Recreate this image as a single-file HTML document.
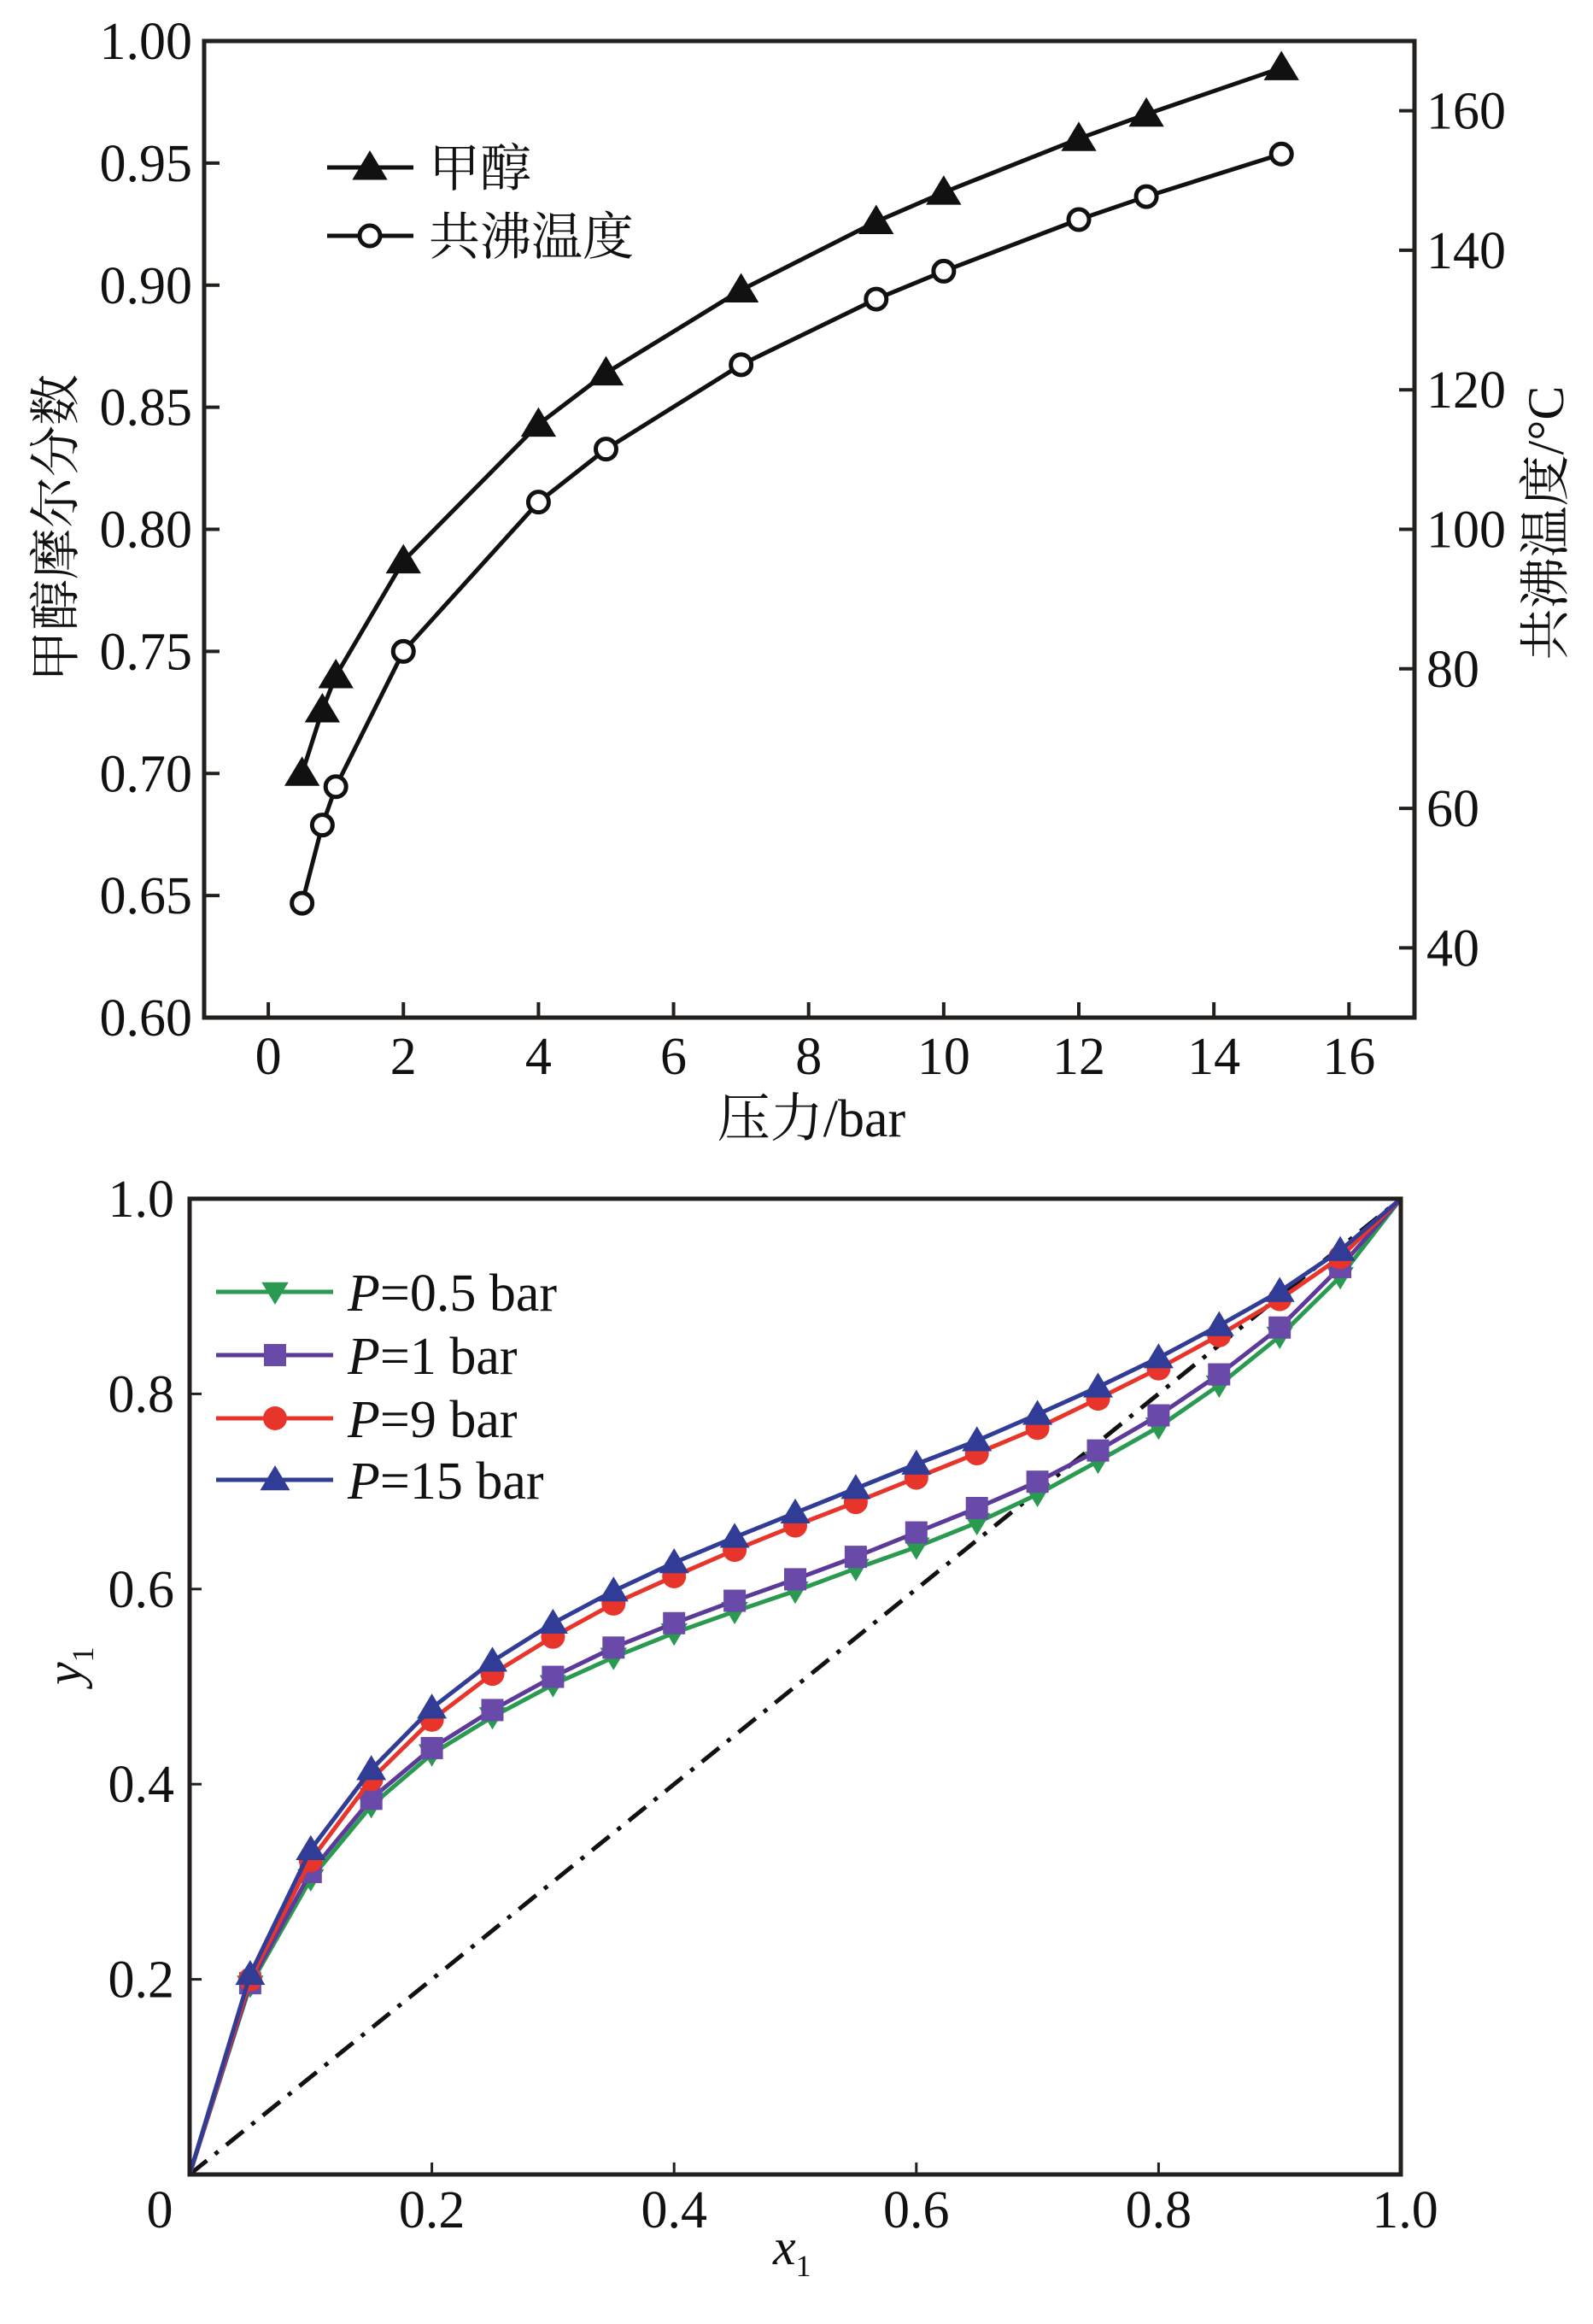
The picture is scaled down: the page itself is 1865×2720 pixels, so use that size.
<!DOCTYPE html>
<html><head><meta charset="utf-8">
<style>
html,body{margin:0;padding:0;background:#fff;}
svg{display:block;}
text{font-family:"Liberation Serif","Noto Serif CJK SC","Noto Sans CJK SC",serif;fill:#111;}
</style></head>
<body>
<svg id="fig" width="1865" height="2720" viewBox="0 0 1865 2720" xmlns="http://www.w3.org/2000/svg"></svg>
<script>
// ---- Top chart data ----
const pressures = [0.5,0.8,1,2,4,5,7,9,10,12,13,15];
const methanolFrac = [0.700,0.726,0.740,0.787,0.843,0.864,0.898,0.926,0.938,0.960,0.970,0.989];
const azeoTemp = [46.4,57.6,63.1,82.5,103.9,111.5,123.6,133.0,137.0,144.4,147.7,153.8];
const topXTicks = [0,2,4,6,8,10,12,14,16];
const topYTicks = [0.60,0.65,0.70,0.75,0.80,0.85,0.90,0.95,1.00];
const topY2Ticks = [40,60,80,100,120,140,160];
// ---- Bottom chart data ----
const x1Values = [0,0.05,0.1,0.15,0.2,0.25,0.3,0.35,0.4,0.45,0.5,0.55,0.6,0.65,0.7,0.75,0.8,0.85,0.9,0.95,1];
const yP05 = [0,0.194,0.303,0.378,0.431,0.469,0.502,0.530,0.555,0.577,0.598,0.621,0.643,0.668,0.697,0.731,0.766,0.809,0.859,0.920,1];
const yP1  = [0,0.196,0.310,0.385,0.437,0.476,0.510,0.540,0.565,0.588,0.610,0.633,0.658,0.683,0.710,0.742,0.778,0.820,0.868,0.930,1];
const yP9  = [0,0.200,0.322,0.405,0.466,0.513,0.551,0.585,0.613,0.640,0.665,0.689,0.714,0.739,0.765,0.795,0.826,0.860,0.897,0.940,1];
const yP15 = [0,0.205,0.333,0.415,0.478,0.526,0.565,0.598,0.627,0.653,0.678,0.703,0.728,0.752,0.779,0.807,0.837,0.870,0.905,0.947,1];
const botTicks = [0.2,0.4,0.6,0.8];
const botTickLabels = ['0.2','0.4','0.6','0.8'];

const NS='http://www.w3.org/2000/svg';
const svg=document.getElementById('fig');
function mk(tag,attrs,parent){const e=document.createElementNS(NS,tag);for(const k in attrs)e.setAttribute(k,attrs[k]);(parent||svg).appendChild(e);return e;}
function txt(s,attrs,parent){const e=mk('text',attrs,parent);e.textContent=s;return e;}

// ================= TOP CHART =================
const T={l:239,r:1656,t:48,b:1191};
const tx=v=>T.l+(v-(-0.95))/(16.97-(-0.95))*(T.r-T.l);
const ty=v=>T.b-(v-0.6)/0.4*(T.b-T.t);
const ty2=v=>T.b-(v-30)/140*(T.b-T.t);
const gTop=mk('g',{});


const frame1=mk('rect',{x:T.l,y:T.t,width:T.r-T.l,height:T.b-T.t,fill:'none',stroke:'#231f1c','stroke-width':5},gTop);


topXTicks.forEach(v=>{
  const x=tx(v);
  mk('line',{x1:x,y1:T.b,x2:x,y2:T.b-18,stroke:'#231f1c','stroke-width':4},gTop);
  const t=txt(String(v),{x:x,y:T.b+66,'font-size':62,'text-anchor':'middle'},gTop);
  
  
});
topYTicks.forEach(v=>{
  const y=ty(v);
  mk('line',{x1:T.l,y1:y,x2:T.l+18,y2:y,stroke:'#231f1c','stroke-width':4},gTop);
  const t=txt(v.toFixed(2),{x:T.l-14,y:y+21,'font-size':62,'text-anchor':'end'},gTop);
  
  
});
topY2Ticks.forEach(v=>{
  const y=ty2(v);
  mk('line',{x1:T.r,y1:y,x2:T.r-18,y2:y,stroke:'#231f1c','stroke-width':4},gTop);
  const t=txt(String(v),{x:T.r+14,y:y+21,'font-size':62,'text-anchor':'start'},gTop);
  
  
});
const xt1=txt('压力/bar',{x:950,y:1330,'font-size':62,'text-anchor':'middle'},gTop);


const yt1=txt('甲醇摩尔分数',{x:0,y:0,'font-size':60,'text-anchor':'middle',transform:'translate(86,618) rotate(-90)'},gTop);


const yt2=txt('共沸温度/°C',{x:0,y:0,'font-size':60,'text-anchor':'middle',transform:'translate(1830,612) rotate(-90)'},gTop);



function triUp(cx,cy,s,fill,stroke,parent){return mk('polygon',{points:`${cx},${cy-s} ${cx-s*1.05},${cy+s*0.75} ${cx+s*1.05},${cy+s*0.75}`,fill:fill,stroke:stroke||fill,'stroke-width':2},parent);}
function triDown(cx,cy,s,fill,parent){return mk('polygon',{points:`${cx},${cy+s} ${cx-s*1.05},${cy-s*0.75} ${cx+s*1.05},${cy-s*0.75}`,fill:fill},parent);}

const meth=mk('polyline',{points:pressures.map((p,i)=>`${tx(p)},${ty(methanolFrac[i])}`).join(' '),fill:'none',stroke:'#111','stroke-width':5},gTop);


pressures.forEach((p,i)=>{
  const m=triUp(tx(p),ty(methanolFrac[i]),18,'#111','#111',gTop);
  
  
});
const temp=mk('polyline',{points:pressures.map((p,i)=>`${tx(p)},${ty2(azeoTemp[i])}`).join(' '),fill:'none',stroke:'#111','stroke-width':5},gTop);


pressures.forEach((p,i)=>{
  const m=mk('circle',{cx:tx(p),cy:ty2(azeoTemp[i]),r:12,fill:'#fff',stroke:'#111','stroke-width':5},gTop);
  
  
});
const lg1=mk('g',{},gTop);


mk('line',{x1:383,y1:196,x2:484,y2:196,stroke:'#111','stroke-width':5},lg1);
triUp(433,196,18,'#111','#111',lg1);
txt('甲醇',{x:502,y:218,'font-size':60},lg1);
mk('line',{x1:383,y1:276,x2:484,y2:276,stroke:'#111','stroke-width':5},lg1);
mk('circle',{cx:433,cy:276,r:12,fill:'#fff',stroke:'#111','stroke-width':5},lg1);
txt('共沸温度',{x:502,y:298,'font-size':60},lg1);

// ================= BOTTOM CHART =================
const B={l:222,r:1640,t:1403,b:2545};
const bx=v=>B.l+v*(B.r-B.l);
const by=v=>B.b-v*(B.b-B.t);
const gB=mk('g',{});


botTicks.forEach((v,i)=>{
  mk('line',{x1:bx(v),y1:B.b,x2:bx(v),y2:B.b-14,stroke:'#231f1c','stroke-width':3},gB);
  mk('line',{x1:B.l,y1:by(v),x2:B.l+14,y2:by(v),stroke:'#231f1c','stroke-width':3},gB);
  const a=txt(botTickLabels[i],{x:bx(v),y:B.b+62,'font-size':62,'text-anchor':'middle'},gB);
  
  
  const b=txt(botTickLabels[i],{x:B.l-18,y:by(v)+21,'font-size':62,'text-anchor':'end'},gB);
  
  
});
txt('0',{x:187,y:B.b+62,'font-size':62,'text-anchor':'middle'},gB);
txt('1.0',{x:1645,y:B.b+62,'font-size':62,'text-anchor':'middle'},gB);
txt('1.0',{x:B.l-18,y:by(1)+21,'font-size':62,'text-anchor':'end'},gB);
const xl=txt('',{x:905,y:2650,'font-size':60},gB);
xl.innerHTML='<tspan font-style="italic">x</tspan><tspan font-size="36" dy="14">1</tspan>';


const yl=txt('',{x:0,y:0,'font-size':60,transform:'translate(95,1972) rotate(-90)'},gB);
yl.innerHTML='<tspan font-style="italic">y</tspan><tspan font-size="36" dy="14">1</tspan>';



const diag=mk('line',{x1:bx(0),y1:by(0),x2:bx(1),y2:by(1),stroke:'#111','stroke-width':5,'stroke-dasharray':'26 12 5 12'},gB);



const series=[
 {name:'p05',ys:yP05,color:'#2a9a50',mark:'down',label:'=0.5 bar'},
 {name:'p1',ys:yP1,color:'#5b3a9a',mark:'square',mfill:'#6a4aa8',label:'=1 bar'},
 {name:'p9',ys:yP9,color:'#e8352b',mark:'circle',label:'=9 bar'},
 {name:'p15',ys:yP15,color:'#303c95',mark:'up',label:'=15 bar'}
];
function marker(s,cx,cy,parent){
  const f=s.mfill||s.color;
  if(s.mark==='down')return triDown(cx,cy,15,f,parent);
  if(s.mark==='up')return triUp(cx,cy,15,f,f,parent);
  if(s.mark==='square')return mk('rect',{x:cx-13,y:cy-13,width:26,height:26,fill:f},parent);
  return mk('circle',{cx:cx,cy:cy,r:14,fill:f},parent);
}
series.forEach(s=>{
  const g=mk('g',{},gB);
  
  
  const pl=mk('polyline',{points:x1Values.map((x,i)=>`${bx(x)},${by(s.ys[i])}`).join(' '),fill:'none',stroke:s.color,'stroke-width':5},g);
  
  
  x1Values.forEach((x,i)=>{
    if(i===0||i===x1Values.length-1)return;
    const m=marker(s,bx(x),by(s.ys[i]),g);
    
    
  });
});
const frame2=mk('rect',{x:B.l,y:B.t,width:B.r-B.l,height:B.b-B.t,fill:'none',stroke:'#231f1c','stroke-width':5},gB);



const lg2=mk('g',{},gB);


const legY=[1512,1586,1660,1732];
series.forEach((s,i)=>{
  const y=legY[i];
  const e=mk('g',{},lg2);
  
  
  mk('line',{x1:253,y1:y,x2:390,y2:y,stroke:s.color,'stroke-width':5},e);
  marker(s,322,y,e);
  const t=txt('',{x:407,y:y+22,'font-size':62},e);
  t.innerHTML='<tspan font-style="italic">P</tspan>'+s.label;
});
</script>
</body></html>
